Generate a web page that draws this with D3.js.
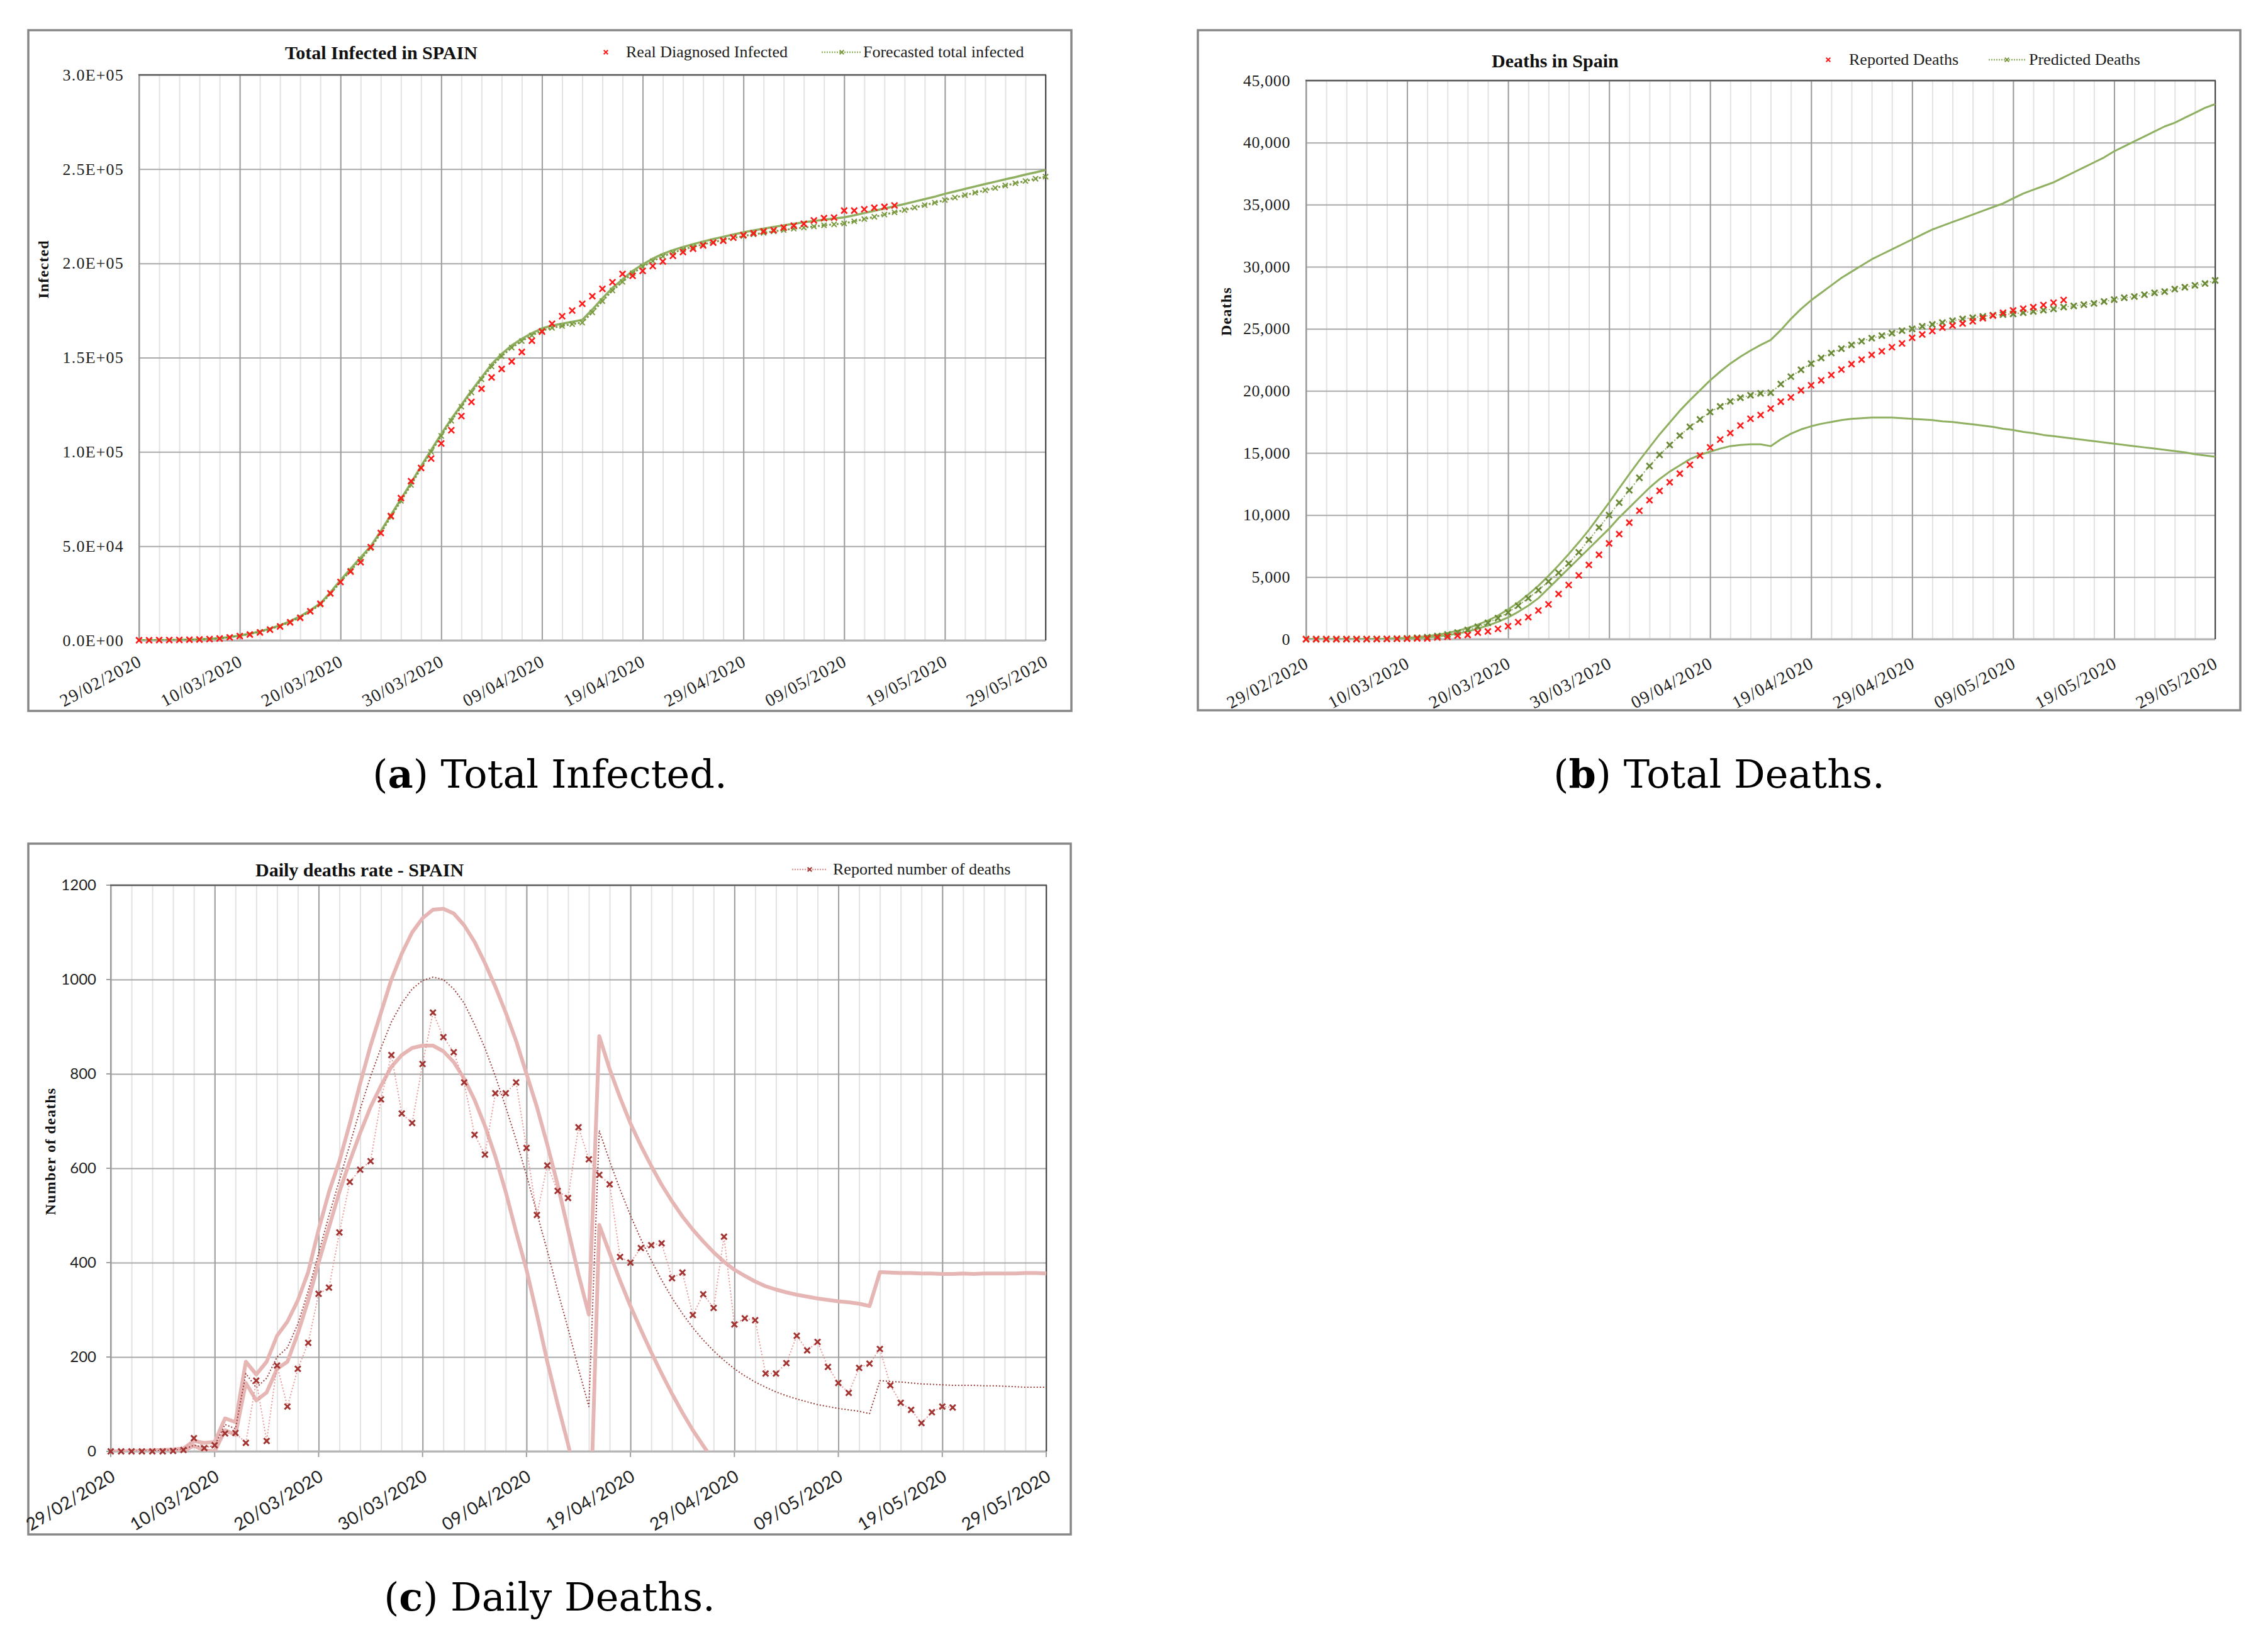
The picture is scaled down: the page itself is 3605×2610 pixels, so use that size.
<!DOCTYPE html>
<html>
<head>
<meta charset="utf-8">
<script src="https://cdnjs.cloudflare.com/ajax/libs/d3/7.8.5/d3.min.js"></script>
<style>
  body { margin: 0; background: #fff; }
  svg { display: block; }
</style>
</head>
<body>
<svg id="fig" width="3605" height="2610"></svg>
<script>
// ---- data (one value per day starting 29/02/2020) ----
const startDate = new Date(2020, 1, 29);
const tickLabels = ["29/02/2020", "10/03/2020", "20/03/2020", "30/03/2020", "09/04/2020",
  "19/04/2020", "29/04/2020", "09/05/2020", "19/05/2020", "29/05/2020"];

// (a) infected, in thousands
const infectedReal = [0.1, 0.1, 0.2, 0.2, 0.3, 0.4, 0.5, 0.7, 1.0, 1.6, 2.3, 3.1, 4.2, 5.7, 7.4, 9.6, 12.0, 15.5, 19.5, 25.0,
  31.0, 36.5, 41.5, 49.5, 57.0, 66.0, 75.5, 84.5, 91.5, 96.5, 104.5, 111.5, 119.0, 126.5, 133.5, 139.5, 144.0, 148.0, 153.0, 159.0,
  163.8, 168.0, 172.0, 175.0, 178.6, 182.6, 186.5, 190.0, 194.4, 193.4, 196.0, 198.6, 201.0, 204.0, 206.0, 207.8, 209.5, 211.0, 212.0, 213.7,
  215.0, 216.0, 217.0, 217.6, 219.0, 220.0, 221.0, 222.8, 224.0, 224.3, 228.0, 228.0, 228.7, 229.5, 230.0, 230.7];
const infectedUpper = [0.1, 0.1, 0.2, 0.2, 0.3, 0.4, 0.6, 0.8, 1.2, 1.8, 2.6, 3.6, 4.8, 6.3, 8.0, 10.2, 12.8, 16.0, 19.7, 25.5,
  32.0, 38.0, 44.0, 50.0, 58.0, 66.5, 75.0, 83.5, 92.5, 101.0, 109.5, 117.5, 125.0, 132.5, 139.5, 146.5, 152.0, 156.5, 160.0, 163.0,
  165.5, 167.0, 168.0, 169.0, 170.0, 175.5, 181.5, 187.0, 191.5, 196.0, 199.5, 202.5, 205.0, 207.0, 208.7, 210.2, 211.6, 212.9, 214.1, 215.3,
  216.5, 217.5, 218.4, 219.3, 220.2, 221.0, 221.8, 222.5, 223.2, 223.8, 224.4, 225.5, 226.7, 227.9, 229.1, 230.3, 231.5, 232.8, 234.1, 235.4,
  236.9, 238.2, 239.5, 240.8, 242.1, 243.3, 244.6, 245.8, 247.1, 248.3, 249.5];
const infectedForecast = [0.1, 0.1, 0.2, 0.2, 0.3, 0.4, 0.5, 0.8, 1.1, 1.7, 2.5, 3.4, 4.6, 6.0, 7.7, 9.8, 12.3, 15.4, 19.0, 24.7,
  31.0, 37.0, 43.0, 49.0, 57.0, 65.5, 74.0, 82.5, 91.5, 100.0, 108.5, 116.5, 124.0, 131.5, 138.5, 145.3, 150.8, 155.3, 158.8, 161.8,
  164.3, 165.8, 166.8, 167.8, 168.6, 174.0, 180.0, 185.6, 190.2, 194.8, 198.2, 201.2, 203.7, 205.7, 207.4, 208.8, 210.1, 211.3, 212.4, 213.5,
  214.5, 215.4, 216.2, 217.0, 217.7, 218.4, 219.0, 219.6, 220.2, 220.7, 221.2, 222.3, 223.5, 224.7, 225.9, 227.1, 228.3, 229.6, 230.9, 232.2,
  233.6, 234.9, 236.2, 237.5, 238.8, 240.0, 241.3, 242.5, 243.7, 244.9, 246.0];

// (b) cumulative deaths
const deathsReported = [0, 0, 0, 1, 2, 3, 5, 10, 17, 28, 35, 54, 55, 133, 195, 289, 342, 533, 623, 830,
  1043, 1375, 1772, 2311, 2808, 3647, 4365, 5138, 5982, 6803, 7716, 8464, 9387, 10348, 11198, 11947, 12641, 13341, 14045, 14792,
  15447, 16081, 16606, 17209, 17756, 18056, 18579, 19130, 19478, 20043, 20453, 20852, 21282, 21717, 22157, 22524, 22902, 23190, 23521, 23822,
  24275, 24543, 24824, 25100, 25264, 25428, 25613, 25857, 26070, 26299, 26478, 26621, 26744, 26920, 27104, 27321];
const deathsPredicted = [0, 0, 0, 0, 0, 0, 0, 10, 20, 40, 70, 110, 170, 260, 380, 540, 750, 1000, 1320, 1700,
  2150, 2700, 3300, 3950, 4650, 5350, 6100, 7000, 8000, 9000, 10000, 11000, 12000, 13000, 13950, 14850, 15650, 16400, 17100, 17700,
  18300, 18750, 19150, 19450, 19650, 19800, 19850, 20550, 21150, 21700, 22200, 22650, 23050, 23400, 23700, 24000, 24250, 24450, 24650, 24850,
  25000, 25200, 25350, 25500, 25650, 25800, 25900, 26000, 26100, 26150, 26200, 26300, 26400, 26500, 26600, 26750, 26850, 26950, 27050, 27200,
  27350, 27500, 27600, 27750, 27900, 28000, 28200, 28350, 28500, 28650, 28900];
const deathsUpper = [0, 0, 0, 0, 0, 0, 10, 20, 40, 70, 110, 170, 250, 360, 500, 680, 900, 1170, 1500, 1900,
  2400, 2950, 3600, 4300, 5100, 5950, 6850, 7800, 8800, 9900, 11000, 12150, 13300, 14400, 15450, 16500, 17450, 18400, 19250, 20050,
  20850, 21550, 22200, 22750, 23250, 23700, 24100, 24900, 25800, 26600, 27300, 27900, 28500, 29100, 29600, 30100, 30600, 31000, 31400, 31800,
  32200, 32600, 33000, 33300, 33600, 33900, 34200, 34500, 34800, 35100, 35500, 35900, 36200, 36500, 36800, 37200, 37600, 38000, 38400, 38800,
  39300, 39700, 40100, 40500, 40900, 41300, 41600, 42000, 42400, 42800, 43100];
const deathsLower = [0, 0, 0, 0, 0, 0, 0, 10, 20, 40, 60, 100, 150, 220, 320, 450, 620, 850, 1100, 1400,
  1750, 2200, 2700, 3300, 4100, 4900, 5700, 6500, 7300, 8100, 8900, 9800, 10600, 11400, 12200, 12900, 13500, 14000, 14500, 14850,
  15100, 15350, 15550, 15650, 15700, 15700, 15550, 16100, 16550, 16900, 17150, 17350, 17500, 17650, 17750, 17800, 17850, 17850, 17850, 17800,
  17750, 17700, 17650, 17550, 17500, 17400, 17300, 17200, 17100, 16950, 16850, 16700, 16600, 16450, 16350, 16250, 16150, 16050, 15950, 15850,
  15750, 15650, 15550, 15450, 15350, 15250, 15150, 15050, 14900, 14800, 14700];

// (c) daily deaths
const dailyReported = [0, 0, 0, 0, 0, 0, 1, 3, 28, 7, 13, 38, 39, 18, 150, 22, 182, 95, 175, 230,
  334, 347, 464, 571, 597, 615, 746, 840, 716, 696, 821, 930, 878, 846, 782, 671, 629, 759, 759, 782,
  643, 501, 606, 552, 537, 687, 619, 586, 566, 412, 400, 431, 437, 441, 367, 379, 289, 333, 304, 455,
  269, 282, 278, 165, 165, 187, 245, 214, 232, 179, 145, 124, 177, 186, 217, 140, 103, 88, 60, 83, 95, 93];
const dailyUpper = [0, 0, 1, 1, 2, 3, 4, 6, 22, 18, 20, 70, 62, 190, 163, 190, 245, 275, 320, 380,
  470, 550, 615, 695, 780, 860, 930, 1000, 1055, 1100, 1130, 1148, 1150, 1140, 1115, 1080, 1035, 985, 930, 870,
  800, 730, 650, 565, 470, 375, 290, 880, 810, 750, 695, 648, 605, 565, 530, 498, 470, 445, 422, 402,
  385, 372, 360, 350, 343, 337, 332, 328, 324, 321, 318, 316, 313, 308, 380, 379, 378, 378, 377, 377,
  376, 376, 377, 376, 377, 377, 377, 377, 378, 378, 377];
const dailyMiddle = [0, 0, 0, 1, 1, 2, 3, 4, 13, 9, 12, 57, 48, 165, 135, 155, 200, 220, 270, 340,
  420, 500, 575, 650, 725, 795, 855, 910, 950, 980, 998, 1005, 1000, 980, 950, 905, 855, 795, 730, 660,
  585, 505, 425, 340, 260, 175, 95, 680, 615, 555, 500, 450, 405, 363, 325, 292, 262, 236, 213, 193,
  175, 160, 147, 136, 126, 118, 111, 105, 99, 95, 91, 88, 85, 80, 150, 148, 147, 145, 143, 142,
  141, 140, 140, 140, 139, 139, 138, 137, 136, 136, 136];
const dailyLower = [0, 0, 0, 0, 0, 0, 0, 1, 12, 2, 0, 45, 35, 145, 108, 125, 175, 190, 250, 320,
  400, 475, 550, 615, 675, 730, 775, 815, 840, 855, 860, 860, 848, 825, 790, 745, 690, 625, 550, 465,
  385, 290, 190, 100, 15, -80, -250, 480, 420, 362, 308, 258, 210, 165, 122, 82, 45, 12, -20];

// ---- helpers ----
const svg = d3.select("#fig");
const dayDates = d3.range(91).map(i => d3.timeDay.offset(startDate, i));
const parseLabel = d3.timeParse("%d/%m/%Y");
const majorDates = tickLabels.map(parseLabel);
const minorDates = d3.range(0, 91, 2).map(i => dayDates[i]);
const serif = "'Liberation Serif', 'Times New Roman', serif";
const sans = "Lato, 'Open Sans', sans-serif";

function drawPanel(o) {
  const [L, T, R, B] = o.plot;
  const g = svg.append("g");

  g.append("rect")
    .attr("x", o.frame[0]).attr("y", o.frame[1])
    .attr("width", o.frame[2] - o.frame[0]).attr("height", o.frame[3] - o.frame[1])
    .attr("fill", "#fff").attr("stroke", "#878787").attr("stroke-width", 3.5);

  const x = d3.scaleTime().domain([dayDates[0], dayDates[90]]).range([L, R]);
  const y = d3.scaleLinear().domain(o.yDomain).range([B, T]);

  // minor vertical grid every 2 days
  const mg = g.append("g").attr("transform", `translate(0,${B})`)
    .call(d3.axisBottom(x).tickValues(minorDates).tickSize(-(B - T)).tickFormat(""));
  mg.select(".domain").remove();
  mg.selectAll("line").attr("stroke", "#e2e2e2").attr("stroke-width", 2);

  // horizontal grid + y labels
  const ya = g.append("g").attr("transform", `translate(${L},0)`)
    .call(d3.axisLeft(y).tickValues(o.yTicks).tickSize(-(R - L)).tickPadding(o.yPad).tickFormat(o.yFormat));
  ya.select(".domain").remove();
  ya.selectAll("line").attr("stroke", "#a8a8a8").attr("stroke-width", 2);
  ya.selectAll("text").attr("font-family", o.tickFont).attr("font-size", o.yFont.size)
    .attr("letter-spacing", o.yFont.ls).attr("fill", "#1e1e1e");

  // major vertical grid + rotated date labels
  const xa = g.append("g").attr("transform", `translate(0,${B})`)
    .call(d3.axisBottom(x).tickValues(majorDates).tickSize(-(B - T)).tickFormat(d3.timeFormat("%d/%m/%Y")));
  xa.select(".domain").remove();
  xa.selectAll("line").attr("stroke", "#9e9e9e").attr("stroke-width", 2);
  xa.selectAll("text")
    .attr("y", 0).attr("dy", 0).attr("text-anchor", "end")
    .attr("transform", `translate(${o.xLab.dx},${o.xLab.dy}) rotate(${-o.xLab.angle})`)
    .attr("font-family", o.tickFont).attr("font-size", o.xLab.size)
    .attr("letter-spacing", o.xLab.ls).attr("fill", "#1e1e1e");

  if (o.outerTicks) {
    g.append("g").selectAll("line").data(majorDates).join("line")
      .attr("x1", d => x(d)).attr("x2", d => x(d)).attr("y1", B).attr("y2", B + 9)
      .attr("stroke", "#9e9e9e").attr("stroke-width", 2);
    g.append("g").selectAll("line").data(o.yTicks).join("line")
      .attr("x1", L - 7).attr("x2", L).attr("y1", d => y(d)).attr("y2", d => y(d))
      .attr("stroke", "#9e9e9e").attr("stroke-width", 2);
  }

  // plot border
  g.append("line").attr("x1", L).attr("x2", L).attr("y1", T).attr("y2", B).attr("stroke", "#9a9a9a").attr("stroke-width", 2);
  g.append("line").attr("x1", L).attr("x2", R).attr("y1", B).attr("y2", B).attr("stroke", "#b4b4b4").attr("stroke-width", 3);
  g.append("line").attr("x1", L - 1).attr("x2", R + 1).attr("y1", T).attr("y2", T).attr("stroke", "#5c5c5c").attr("stroke-width", 2.5);
  g.append("line").attr("x1", R).attr("x2", R).attr("y1", T).attr("y2", B).attr("stroke", "#4a4a4a").attr("stroke-width", 2);

  const clipId = "clip" + o.id;
  g.append("clipPath").attr("id", clipId)
    .append("rect").attr("x", L - 2).attr("y", T - 2).attr("width", R - L + 4).attr("height", B - T + 2);

  const series = g.append("g");
  o.series.forEach(s => {
    const pts = s.values.map((v, i) => ({ d: dayDates[i], v: v * (o.unit || 1) }));
    if (s.stroke) {
      series.append("path").datum(pts)
        .attr("clip-path", `url(#${clipId})`)
        .attr("fill", "none").attr("stroke", s.stroke).attr("stroke-width", s.width)
        .attr("stroke-dasharray", s.dash || null)
        .attr("stroke-linejoin", "round")
        .attr("d", d3.line().x(p => x(p.d)).y(p => y(p.v)));
    }
    if (s.marker) {
      series.append("g").selectAll("path").data(pts).join("path")
        .attr("transform", p => `translate(${x(p.d)},${y(p.v)})`)
        .attr("d", d3.symbol(d3.symbolX, s.marker.size))
        .attr("fill", "none").attr("stroke", s.marker.color).attr("stroke-width", s.marker.width);
    }
  });

  // title
  g.append("text").attr("x", o.title.x).attr("y", o.title.y)
    .attr("font-family", serif).attr("font-weight", "bold").attr("font-size", 30).attr("fill", "#111")
    .text(o.title.text);

  // y axis title
  g.append("text")
    .attr("transform", `translate(${o.yTitle.x},${o.yTitle.y}) rotate(-90)`)
    .attr("text-anchor", "middle")
    .attr("font-family", serif).attr("font-weight", "bold").attr("font-size", 24)
    .attr("letter-spacing", 1.2).attr("fill", "#111")
    .text(o.yTitle.text);

  // legend
  o.legend.forEach(it => {
    if (it.line) {
      g.append("line").attr("x1", it.x).attr("x2", it.x + it.line.len).attr("y1", it.y).attr("y2", it.y)
        .attr("stroke", it.line.color).attr("stroke-width", 2.5).attr("stroke-dasharray", "2,2");
    }
    g.append("path")
      .attr("transform", `translate(${it.mx},${it.y})`)
      .attr("d", d3.symbol(d3.symbolX, it.marker.size))
      .attr("fill", "none").attr("stroke", it.marker.color).attr("stroke-width", it.marker.width);
    g.append("text").attr("x", it.tx).attr("y", it.y + 8)
      .attr("font-family", serif).attr("font-size", 26).attr("fill", "#1e1e1e")
      .text(it.text);
  });

  // caption
  const cap = svg.append("text")
    .attr("x", (o.frame[0] + o.frame[2]) / 2).attr("y", o.caption.y)
    .attr("text-anchor", "middle")
    .attr("font-family", "'DejaVu Serif', serif").attr("font-size", 62).attr("fill", "#000");
  cap.append("tspan").text("(");
  cap.append("tspan").attr("font-weight", "bold").text(o.caption.letter);
  cap.append("tspan").text(") " + o.caption.text);
}

const redX = { color: "#ff1a1a", size: 60, width: 2.6 };
const greenX = { color: "#6b8a35", size: 60, width: 2.8 };

drawPanel({
  id: "a",
  frame: [45, 48, 1703, 1130],
  plot: [221, 119, 1662, 1018],
  yDomain: [0, 300000],
  yTicks: d3.range(0, 300001, 50000),
  yFormat: v => (v === 0 ? "0.0E+00" : d3.format(".1e")(v).replace("e+", "E+0")),
  yPad: 24,
  yFont: { size: 26, ls: 1.2 },
  xLab: { size: 28, ls: 1.5, dx: 6, dy: 39, angle: 28 },
  tickFont: serif,
  unit: 1000,
  series: [
    { values: infectedUpper, stroke: "#8fb060", width: 3.5 },
    { values: infectedForecast, stroke: "#7a9a40", width: 3, dash: "3,3", marker: { color: "#7a9a40", size: 45, width: 2 } },
    { values: infectedReal, marker: redX }
  ],
  title: { text: "Total Infected in SPAIN", x: 453, y: 94 },
  yTitle: { text: "Infected", x: 77, y: 428 },
  legend: [
    { mx: 963, y: 83, tx: 995, text: "Real Diagnosed Infected", marker: { color: "#ff1a1a", size: 30, width: 2 } },
    { x: 1306, mx: 1338, y: 83, tx: 1372, text: "Forecasted total infected", line: { len: 63, color: "#8fb060" }, marker: { color: "#7a9a40", size: 30, width: 2 } }
  ],
  caption: { letter: "a", text: "Total Infected.", y: 1252 }
});

drawPanel({
  id: "b",
  frame: [1904, 48, 3561, 1129],
  plot: [2076, 128, 3521, 1016],
  yDomain: [0, 45000],
  yTicks: d3.range(0, 45001, 5000),
  yFormat: d3.format(","),
  yPad: 25,
  yFont: { size: 26, ls: 0.6 },
  xLab: { size: 28, ls: 1.5, dx: 6, dy: 44, angle: 28 },
  tickFont: serif,
  series: [
    { values: deathsUpper, stroke: "#8fb060", width: 3 },
    { values: deathsLower, stroke: "#8fb060", width: 3 },
    { values: deathsPredicted, stroke: "#8fb060", width: 2, dash: "2,3", marker: greenX },
    { values: deathsReported, marker: redX }
  ],
  title: { text: "Deaths in Spain", x: 2371, y: 107 },
  yTitle: { text: "Deaths", x: 1957, y: 495 },
  legend: [
    { mx: 2906, y: 95, tx: 2939, text: "Reported Deaths", marker: { color: "#ff1a1a", size: 30, width: 2 } },
    { x: 3161, mx: 3190, y: 95, tx: 3225, text: "Predicted Deaths", line: { len: 59, color: "#8fb060" }, marker: { color: "#7a9a40", size: 30, width: 2 } }
  ],
  caption: { letter: "b", text: "Total Deaths.", y: 1252 }
});

drawPanel({
  id: "c",
  frame: [45, 1341, 1702, 2439],
  plot: [176, 1407, 1663, 2307],
  yDomain: [0, 1200],
  yTicks: d3.range(0, 1201, 200),
  yFormat: d3.format("d"),
  yPad: 23,
  yFont: { size: 24, ls: 0 },
  xLab: { size: 28, ls: 0.4, dx: 9, dy: 45, angle: 31 },
  tickFont: sans,
  outerTicks: true,
  series: [
    { values: dailyUpper, stroke: "#e6b6b5", width: 6 },
    { values: dailyLower, stroke: "#e6b6b5", width: 6 },
    { values: dailyMiddle, stroke: "#9a3b38", width: 2, dash: "2,3" },
    { values: dailyReported, stroke: "#e79a99", width: 2, dash: "2,3", marker: { color: "#a23432", size: 55, width: 3 } }
  ],
  title: { text: "Daily deaths rate - SPAIN", x: 406, y: 1393 },
  yTitle: { text: "Number of deaths", x: 88, y: 1830 },
  legend: [
    { x: 1259, mx: 1287, y: 1382, tx: 1324, text: "Reported number of deaths", line: { len: 56, color: "#e79a99" }, marker: { color: "#a23432", size: 30, width: 2 } }
  ],
  caption: { letter: "c", text: "Daily Deaths.", y: 2560 }
});
</script>
</body>
</html>
